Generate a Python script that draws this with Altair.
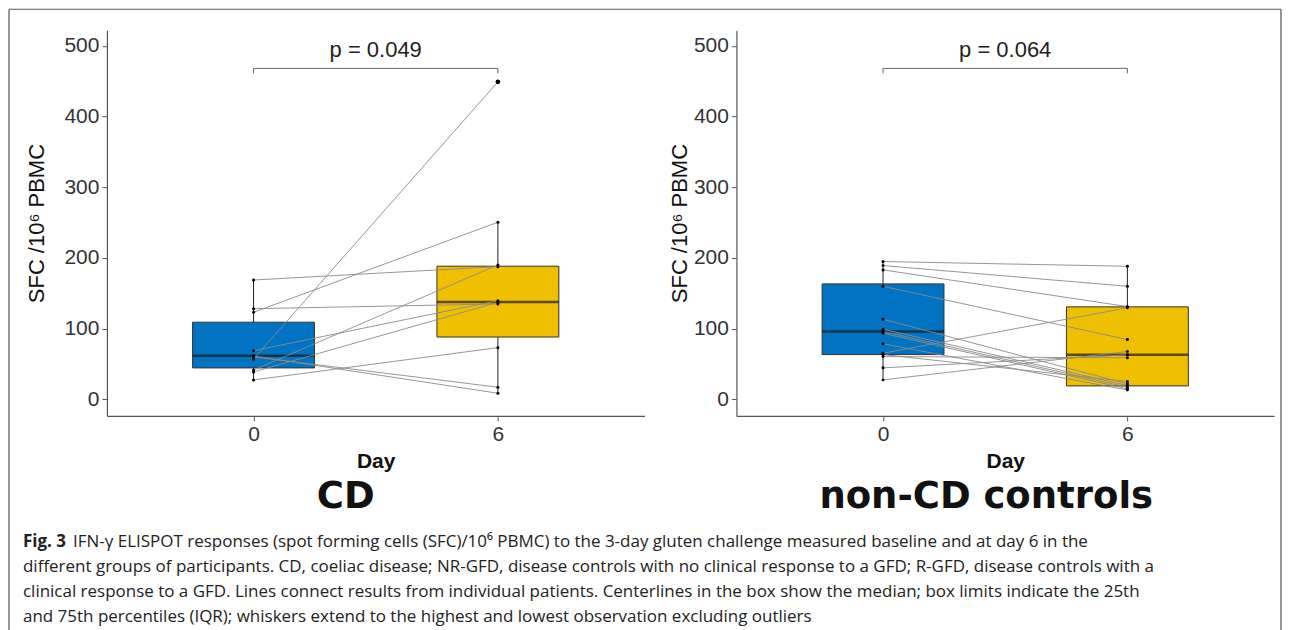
import altair as alt
import pandas as pd

# ---------------- data ----------------
days = ["0", "6"]

# CD panel: paired values, day 0 -> day 6
cd_day0 = [168.7, 128.1, 123.0, 57.0, 41.4, 68.7, 61.2, 60.0, 38.6, 27.3]
cd_day6 = [187.6, 134.8, 250.4, 449.0, 190.0, 139.5, 8.5, 17.0, 137.2, 73.0]
cd_q1 = [44.3, 88.0]
cd_median = [61.5, 137.6]
cd_q3 = [109.0, 188.2]
cd_low = [27.3, 8.5]
cd_high = [168.7, 250.4]
cd_outlier_days = ["6"]
cd_outlier_values = [449.0]
cd_p = "p = 0.049"

# non-CD controls panel
ctrl_day0 = [194.8, 189.1, 183.0, 159.8, 113.2, 99.0, 95.8, 93.4, 78.4, 65.1, 63.2, 60.4, 44.4, 27.4]
ctrl_day6 = [188.1, 159.8, 131.1, 84.4, 21.8, 19.4, 17.0, 14.7, 13.0, 129.3, 25.0, 58.6, 62.8, 67.5]
ctrl_q1 = [63.2, 18.9]
ctrl_median = [95.8, 62.8]
ctrl_q3 = [163.2, 130.7]
ctrl_low = [27.4, 13.0]
ctrl_high = [194.8, 188.1]
ctrl_outlier_days = []
ctrl_outlier_values = []
ctrl_p = "p = 0.064"

bracket_level = [468.0]
bracket_tick_end = [461.0]
p_label_level = [494.0]

y_ticks = [0, 100, 200, 300, 400, 500]
y_domain = [-23.6, 522.0]

box_colors = ["#0073C2", "#EFC000"]

panel_titles = ["CD", "non-CD controls"]

fig_label = "Fig. 3"
caption_first = ("IFN-\u03b3 ELISPOT responses (spot forming cells (SFC)/10\u2076 PBMC) to the 3-day "
                 "gluten challenge measured baseline and at day 6 in the")
caption_rest = [
    "different groups of participants. CD, coeliac disease; NR-GFD, disease controls with no clinical "
    "response to a GFD; R-GFD, disease controls with a",
    "clinical response to a GFD. Lines connect results from individual patients. Centerlines in the box "
    "show the median; box limits indicate the 25th",
    "and 75th percentiles (IQR); whiskers extend to the highest and lowest observation excluding outliers",
]

FONT = "Liberation Sans"
TITLE_FONT = "DejaVu Sans"
CAP_FONT = "Open Sans"
CAP_SIZE = 17
PW, PH = 538, 386


def panel(day0, day6, q1, med, q3, lo, hi, out_days, out_vals, ptext, title, ytitle_pad, title_x,
          extra=()):
    long = pd.DataFrame({
        "patient": list(range(len(day0))) * 2,
        "day": ["0"] * len(day0) + ["6"] * len(day6),
        "value": list(day0) + list(day6),
    })
    stats = pd.DataFrame({"day": days, "q1": q1, "median": med, "q3": q3, "low": lo, "high": hi})
    outl = pd.DataFrame({"day": out_days, "value": out_vals})
    br = pd.DataFrame({"x1": ["0"], "x2": ["6"], "y": bracket_level})
    brt = pd.DataFrame({"day": days, "y": bracket_tick_end * 2, "y2": bracket_level * 2})
    pdf = pd.DataFrame({"y": p_label_level, "label": [ptext]})
    tdf = pd.DataFrame({"label": [title]})

    xscale = alt.Scale(type="point", padding=0.6, domain=days)
    xaxis = alt.Axis(title="Day", labelAngle=0, titleFontWeight="bold", titleFontSize=21,
                     labelPadding=3, titlePadding=6)
    yscale = alt.Scale(domain=y_domain, nice=False, zero=False)
    yaxis = alt.Axis(title="SFC /10\u2076 PBMC", values=y_ticks, titleFontWeight="normal",
                     titleFontSize=22, labelPadding=3, titlePadding=ytitle_pad)

    def xe(f):
        return alt.X(f"{f}:N", scale=xscale, axis=xaxis)

    def ye(f):
        return alt.Y(f"{f}:Q", scale=yscale, axis=yaxis)

    whisk = alt.Chart(stats).mark_rule(color="#222", strokeWidth=1).encode(
        x=xe("day"), y=ye("low"), y2="high")
    box = alt.Chart(stats).mark_bar(size=122, stroke="#333", strokeWidth=1).encode(
        x=xe("day"), y=ye("q1"), y2="q3",
        color=alt.Color("day:N", scale=alt.Scale(domain=days, range=box_colors), legend=None))
    medline = alt.Chart(stats).mark_tick(size=122, thickness=2.5, color="#1a1a1a").encode(
        x=xe("day"), y=ye("median"))
    lines = alt.Chart(long).mark_line(color="#8a8a8a", strokeWidth=0.9).encode(
        x=xe("day"), y=ye("value"), detail="patient:N")
    pts = alt.Chart(long).mark_circle(size=9, color="black", opacity=1).encode(
        x=xe("day"), y=ye("value"))
    layers = [whisk, box, medline, lines, pts]
    if len(out_vals):
        layers.append(alt.Chart(outl).mark_circle(size=22, color="black", opacity=1).encode(
            x=xe("day"), y=ye("value")))
    bracket = alt.Chart(br).mark_rule(color="#666", strokeWidth=1).encode(
        x=xe("x1"), x2="x2", y=ye("y"))
    bticks = alt.Chart(brt).mark_rule(color="#666", strokeWidth=1).encode(
        x=xe("day"), y=ye("y"), y2="y2")
    ptxt = alt.Chart(pdf).mark_text(font=FONT, fontSize=22, color="#222", baseline="middle").encode(
        x=alt.value(PW / 2), y=ye("y"), text="label:N")
    ttl = alt.Chart(tdf).mark_text(font=TITLE_FONT, fontSize=37, fontWeight="bold", color="#111",
                                   baseline="middle").encode(
        x=alt.value(title_x), y=alt.value(467), text="label:N")
    layers += [bracket, bticks, ptxt, ttl]
    layers += list(extra)
    return alt.layer(*layers).properties(width=PW, height=PH)


# caption and figure frame (decorations, drawn relative to the left panel)
one = pd.DataFrame({"k": [0]})
cbase = alt.Chart(one)
cap_fig = cbase.mark_text(align="left", baseline="middle", font=CAP_FONT, fontSize=CAP_SIZE,
                          fontWeight="bold", color="#222").encode(
    x=alt.value(-84), y=alt.value(512), text=alt.value(fig_label))
cap_l1 = cbase.mark_text(align="left", baseline="middle", font=CAP_FONT, fontSize=CAP_SIZE,
                         color="#222").encode(
    x=alt.value(-34), y=alt.value(512), text=alt.value(caption_first))
cap_rest = cbase.mark_text(align="left", baseline="middle", font=CAP_FONT, fontSize=CAP_SIZE,
                           color="#222", lineHeight=25).encode(
    x=alt.value(-84), y=alt.value(537), text=alt.value(caption_rest))
frame_l = cbase.mark_rule(color="#555", strokeWidth=1.2).encode(
    x=alt.value(-98), y=alt.value(-21), y2=alt.value(612))
frame_t = cbase.mark_rule(color="#555", strokeWidth=1.2).encode(
    x=alt.value(-98), x2=alt.value(1175), y=alt.value(-21))
frame_r = cbase.mark_rule(color="#555", strokeWidth=1.2).encode(
    x=alt.value(1175), y=alt.value(-21), y2=alt.value(612))

left = panel(cd_day0, cd_day6, cd_q1, cd_median, cd_q3, cd_low, cd_high,
             cd_outlier_days, cd_outlier_values, cd_p, panel_titles[0], 15, 239,
             extra=(cap_fig, cap_l1, cap_rest, frame_l, frame_t, frame_r))
right = panel(ctrl_day0, ctrl_day6, ctrl_q1, ctrl_median, ctrl_q3, ctrl_low, ctrl_high,
              ctrl_outlier_days, ctrl_outlier_values, ctrl_p, panel_titles[1], 2, 250)

chart = alt.hconcat(left, right, spacing=92, bounds="flush").properties(padding=0).configure_axis(
    labelFont=FONT, labelFontSize=21, labelColor="#333",
    titleFont=FONT, titleFontSize=20, titleColor="#111",
    domainColor="#555", tickColor="#555", tickSize=5, grid=False, domainWidth=1.2,
).configure_view(stroke=None)

chart.save("out.html", embed_options={"renderer": "svg", "actions": False})
